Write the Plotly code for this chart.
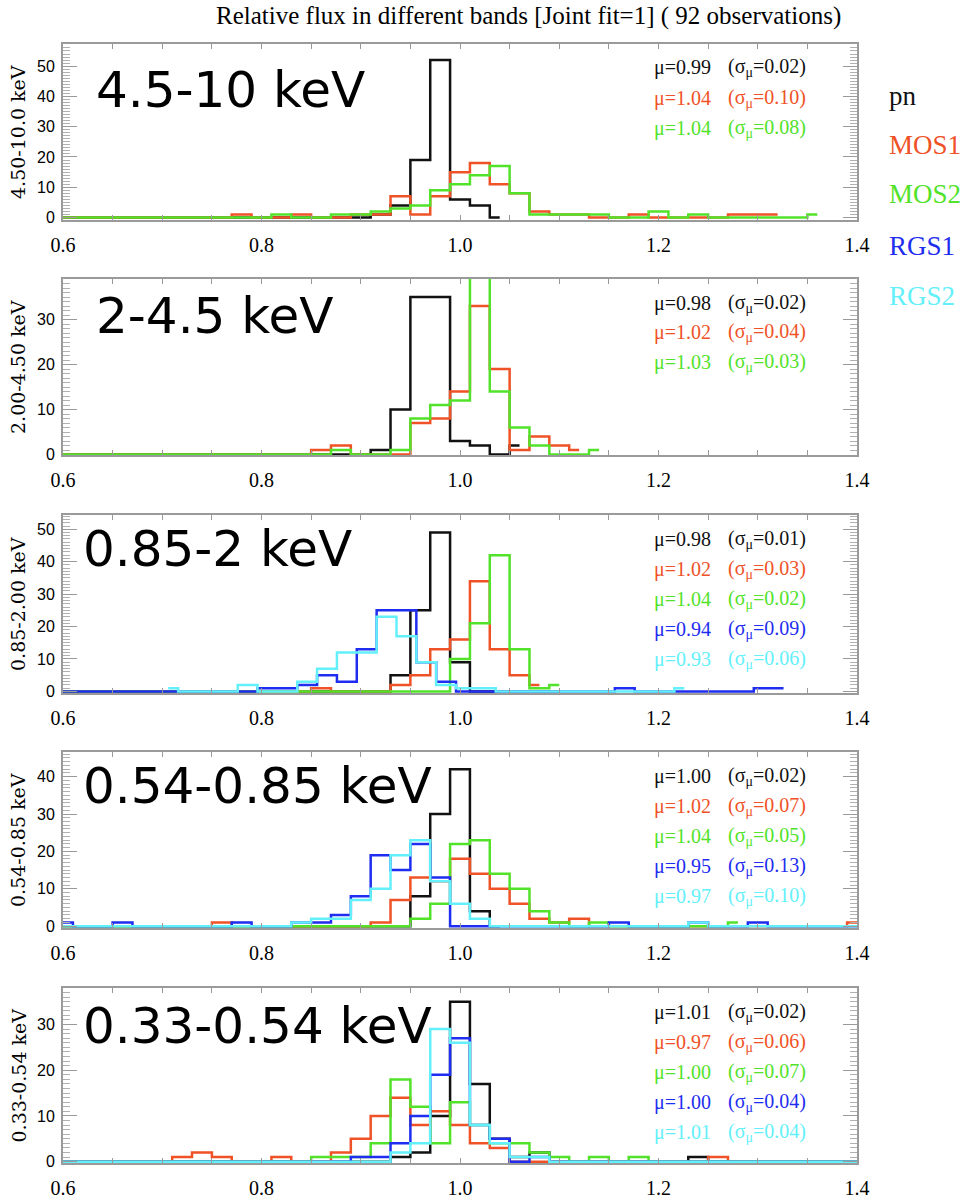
import numpy as np
import plotly.graph_objects as go

# ---------------------------------------------------------------- data
TITLE = "Relative flux in different bands [Joint fit=1] ( 92 observations)"
INSTRUMENTS = ["pn", "MOS1", "MOS2", "RGS1", "RGS2"]
BAND_LABELS = ["4.5-10 keV", "2-4.5 keV", "0.85-2 keV", "0.54-0.85 keV", "0.33-0.54 keV"]
BAND_AXIS_TITLES = ["4.50-10.0 keV", "2.00-4.50 keV", "0.85-2.00 keV",
                    "0.54-0.85 keV", "0.33-0.54 keV"]
X_TICK_VALUES = [0.6, 0.8, 1.0, 1.2, 1.4]
X_TICK_TEXT = ["0.6", "0.8", "1.0", "1.2", "1.4"]
Y_TICKS_4510 = [0, 10, 20, 30, 40, 50]
Y_TICKS_2045 = [0, 10, 20, 30]
Y_TICKS_0852 = [0, 10, 20, 30, 40, 50]
Y_TICKS_054085 = [0, 10, 20, 30, 40]
Y_TICKS_033054 = [0, 10, 20, 30]
BIN_WIDTH = 0.02

# mean and sigma per instrument
MU_4510, SIG_4510 = [0.99, 1.04, 1.04], [0.02, 0.10, 0.08]
MU_2045, SIG_2045 = [0.98, 1.02, 1.03], [0.02, 0.04, 0.03]
MU_0852, SIG_0852 = [0.98, 1.02, 1.04, 0.94, 0.93], [0.01, 0.03, 0.02, 0.09, 0.06]
MU_054085, SIG_054085 = [1.00, 1.02, 1.04, 0.95, 0.97], [0.02, 0.07, 0.05, 0.13, 0.10]
MU_033054, SIG_033054 = [1.01, 0.97, 1.00, 1.00, 1.01], [0.02, 0.06, 0.07, 0.04, 0.04]

# histograms: bin centre -> count (zero at the other bins of the span)
# span = (first bin centre, last bin centre) of the drawn histogram
H_4510_PN = {0.92: 1, 0.94: 4, 0.96: 19, 0.98: 52, 1.00: 6, 1.02: 4}
SPAN_4510_PN = (0.60, 1.04)
H_4510_MOS1 = {0.78: 1, 0.84: 1, 0.90: 1, 0.92: 1, 0.94: 7, 0.96: 1, 0.98: 7, 1.00: 15,
               1.02: 18, 1.04: 11, 1.06: 8, 1.08: 2, 1.10: 1, 1.12: 1, 1.18: 1,
               1.28: 1, 1.30: 1, 1.32: 1}
SPAN_4510_MOS1 = (0.60, 1.32)
H_4510_MOS2 = {0.82: 1, 0.88: 1, 0.90: 1, 0.92: 2, 0.94: 3, 0.96: 4, 0.98: 9, 1.00: 11,
               1.02: 14, 1.04: 17, 1.06: 8, 1.08: 1, 1.10: 1, 1.12: 1, 1.14: 1,
               1.20: 2, 1.24: 1, 1.36: 1}
SPAN_4510_MOS2 = (0.60, 1.36)

H_2045_PN = {0.92: 1, 0.94: 10, 0.96: 35, 0.98: 35, 1.00: 3, 1.02: 2, 1.06: 2}
SPAN_2045_PN = (0.60, 1.06)
H_2045_MOS1 = {0.86: 1, 0.88: 2, 0.96: 7, 0.98: 8, 1.00: 14, 1.02: 33, 1.04: 19,
               1.06: 1, 1.08: 4, 1.10: 2, 1.12: 1}
SPAN_2045_MOS1 = (0.60, 1.12)
H_2045_MOS2 = {0.88: 1, 0.94: 1, 0.96: 8, 0.98: 11, 1.00: 12, 1.02: 42, 1.04: 14,
               1.06: 6, 1.08: 2, 1.14: 1}
SPAN_2045_MOS2 = (0.60, 1.14)

H_0852_PN = {0.94: 5, 0.96: 25, 0.98: 49, 1.00: 9}
SPAN_0852_PN = (0.60, 1.10)
H_0852_MOS1 = {0.86: 1, 0.94: 2, 0.96: 5, 0.98: 13, 1.00: 16, 1.02: 34, 1.04: 13,
               1.06: 5, 1.08: 2}
SPAN_0852_MOS1 = (0.60, 1.08)
H_0852_MOS2 = {1.00: 10, 1.02: 21, 1.04: 42, 1.06: 13, 1.08: 1, 1.10: 2}
SPAN_0852_MOS2 = (0.60, 1.10)
H_0852_RGS1 = {0.806: 1, 0.826: 1, 0.846: 2, 0.866: 5, 0.886: 3, 0.906: 13, 0.926: 25,
               0.946: 25, 0.966: 9, 0.986: 3, 1.166: 1, 1.306: 1, 1.326: 1}
SPAN_0852_RGS1 = (0.586, 1.326)
H_0852_RGS2 = {0.706: 1, 0.786: 2, 0.846: 3, 0.866: 7, 0.886: 12, 0.906: 12, 0.926: 23,
               0.946: 17, 0.966: 9, 0.986: 2, 1.006: 1, 1.026: 1, 1.226: 1}
SPAN_0852_RGS2 = (0.706, 1.226)

H_054085_PN = {0.96: 8, 0.98: 30, 1.00: 42, 1.02: 4}
SPAN_054085_PN = (0.60, 1.04)
H_054085_MOS1 = {0.76: 1, 0.92: 1, 0.94: 7, 0.96: 13, 0.98: 12, 1.00: 18, 1.02: 14,
                 1.04: 10, 1.06: 6, 1.08: 2, 1.10: 1, 1.12: 2, 1.40: 1}
SPAN_054085_MOS1 = (0.60, 1.40)
H_054085_MOS2 = {0.96: 2, 0.98: 6, 1.00: 22, 1.02: 23, 1.04: 14, 1.06: 10, 1.08: 4,
                 1.10: 1, 1.14: 1, 1.28: 1}
SPAN_054085_MOS2 = (0.60, 1.28)
H_054085_RGS1 = {0.60: 1, 0.66: 1, 0.78: 1, 0.84: 1, 0.86: 1, 0.88: 3, 0.90: 8,
                 0.92: 19, 0.94: 15, 0.96: 22, 0.98: 13, 1.16: 1, 1.24: 1, 1.30: 1}
SPAN_054085_RGS1 = (0.60, 1.40)
H_054085_RGS2 = {0.84: 1, 0.86: 2, 0.88: 2, 0.90: 7, 0.92: 10, 0.94: 19, 0.96: 23,
                 0.98: 12, 1.00: 6, 1.02: 2, 1.24: 1}
SPAN_054085_RGS2 = (0.60, 1.40)

H_033054_PN = {0.94: 1, 0.96: 2, 0.98: 10, 1.00: 35, 1.02: 17, 1.04: 5, 1.06: 1,
               1.08: 2, 1.24: 1}
SPAN_033054_PN = (0.60, 1.40)
H_033054_MOS1 = {0.72: 1, 0.74: 2, 0.76: 1, 0.82: 1, 0.88: 2, 0.90: 5, 0.92: 10,
                 0.94: 14, 0.96: 8, 0.98: 11, 1.00: 8, 1.02: 4, 1.04: 3, 1.26: 1}
SPAN_033054_MOS1 = (0.60, 1.40)
H_033054_MOS2 = {0.86: 1, 0.88: 1, 0.90: 1, 0.92: 4, 0.94: 18, 0.96: 12, 0.98: 4,
                 1.00: 13, 1.02: 8, 1.04: 4, 1.06: 4, 1.08: 2, 1.10: 1, 1.14: 1, 1.18: 1}
SPAN_033054_MOS2 = (0.60, 1.40)
H_033054_RGS1 = {0.90: 1, 0.92: 1, 0.94: 4, 0.96: 10, 0.98: 19, 1.00: 27, 1.02: 8,
                 1.04: 5, 1.08: 1}
SPAN_033054_RGS1 = (0.60, 1.40)
H_033054_RGS2 = {0.94: 2, 0.96: 4, 0.98: 29, 1.00: 26, 1.02: 8, 1.04: 4, 1.06: 1,
                 1.08: 1}
SPAN_033054_RGS2 = (0.60, 1.40)

# ---------------------------------------------------------------- style
W, H = 964, 1202
COLORS = ["#111111", "#EF5226", "#52E22A", "#1E2DF0", "#63F0FA"]
FRAME = "#9a9a9a"
PLOT_LEFT, PLOT_RIGHT = 63, 857
PANEL_TOP = [44, 279, 515, 752, 988]
PANEL_BOTTOM = [220, 455, 693, 928, 1163]
Y_RANGES = [[-0.8, 57.3], [-0.1, 39.0], [-0.5, 54.4], [-0.5, 46.6], [-0.3, 38.0]]
LABEL_X = [94, 94, 81, 81, 81]
LABEL_DY = [46, 37, 34, 34, 38]

panels = [
    (BAND_LABELS[0], BAND_AXIS_TITLES[0], Y_TICKS_4510, MU_4510, SIG_4510,
     [(H_4510_PN, SPAN_4510_PN), (H_4510_MOS1, SPAN_4510_MOS1), (H_4510_MOS2, SPAN_4510_MOS2)]),
    (BAND_LABELS[1], BAND_AXIS_TITLES[1], Y_TICKS_2045, MU_2045, SIG_2045,
     [(H_2045_PN, SPAN_2045_PN), (H_2045_MOS1, SPAN_2045_MOS1), (H_2045_MOS2, SPAN_2045_MOS2)]),
    (BAND_LABELS[2], BAND_AXIS_TITLES[2], Y_TICKS_0852, MU_0852, SIG_0852,
     [(H_0852_PN, SPAN_0852_PN), (H_0852_MOS1, SPAN_0852_MOS1), (H_0852_MOS2, SPAN_0852_MOS2),
      (H_0852_RGS1, SPAN_0852_RGS1), (H_0852_RGS2, SPAN_0852_RGS2)]),
    (BAND_LABELS[3], BAND_AXIS_TITLES[3], Y_TICKS_054085, MU_054085, SIG_054085,
     [(H_054085_PN, SPAN_054085_PN), (H_054085_MOS1, SPAN_054085_MOS1),
      (H_054085_MOS2, SPAN_054085_MOS2), (H_054085_RGS1, SPAN_054085_RGS1),
      (H_054085_RGS2, SPAN_054085_RGS2)]),
    (BAND_LABELS[4], BAND_AXIS_TITLES[4], Y_TICKS_033054, MU_033054, SIG_033054,
     [(H_033054_PN, SPAN_033054_PN), (H_033054_MOS1, SPAN_033054_MOS1),
      (H_033054_MOS2, SPAN_033054_MOS2), (H_033054_RGS1, SPAN_033054_RGS1),
      (H_033054_RGS2, SPAN_033054_RGS2)]),
]


def px_x(x):
    return x / W


def px_y(y):
    return 1 - y / H


def histogram_xy(counts, span):
    n = int(round((span[1] - span[0]) / BIN_WIDTH)) + 1
    centres = [round(span[0] + k * BIN_WIDTH, 3) for k in range(n)]
    lookup = {round(k, 3): v for k, v in counts.items()}
    return centres, [lookup.get(c, 0) for c in centres]


fig = go.Figure()
annotations = []
layout = {}

for i, (label, ytitle, yticks, mus, sigs, series) in enumerate(panels):
    n = i + 1
    xa = "x" if n == 1 else f"x{n}"
    ya = "y" if n == 1 else f"y{n}"
    for j, (counts, span) in enumerate(series):
        xs, ys = histogram_xy(counts, span)
        fig.add_trace(go.Scatter(
            x=xs, y=ys, mode="lines", line_shape="hvh",
            line=dict(color=COLORS[j], width=2.5),
            xaxis=xa, yaxis=ya, showlegend=False, hoverinfo="skip"))

    layout["xaxis" if n == 1 else f"xaxis{n}"] = dict(
        domain=[px_x(PLOT_LEFT), px_x(PLOT_RIGHT)], anchor=ya, automargin=False,
        range=[0.6, 1.4], tickvals=X_TICK_VALUES, ticktext=X_TICK_TEXT,
        ticks="inside", ticklen=5, tickwidth=1, tickcolor=FRAME,
        minor=dict(dtick=0.05, ticks="inside", ticklen=5, tickcolor=FRAME),
        showline=True, linecolor=FRAME, linewidth=2, mirror="allticks",
        showgrid=False, zeroline=False, ticklabelstandoff=6,
        tickfont=dict(family="Liberation Serif", size=20, color="black"))
    layout["yaxis" if n == 1 else f"yaxis{n}"] = dict(
        domain=[px_y(PANEL_BOTTOM[i]), px_y(PANEL_TOP[i])], anchor=xa, automargin=False,
        range=Y_RANGES[i], tickvals=yticks,
        ticks="inside", ticklen=14, tickwidth=1, tickcolor=FRAME,
        minor=dict(dtick=1, ticks="inside", ticklen=7, tickcolor="#b0b0b0"),
        showline=True, linecolor=FRAME, linewidth=2, mirror="allticks",
        showgrid=False, zeroline=False, ticklabelstandoff=3,
        tickfont=dict(family="Liberation Sans", size=16, color="black"))

    top = PANEL_TOP[i]
    annotations.append(dict(
        text=label, xref="paper", yref="paper", x=px_x(LABEL_X[i]),
        y=px_y(top + LABEL_DY[i]), xanchor="left", yanchor="middle", showarrow=False,
        font=dict(family="DejaVu Sans", size=50, color="black")))
    annotations.append(dict(
        text=ytitle, xref="paper", yref="paper", x=px_x(18),
        y=px_y((top + PANEL_BOTTOM[i]) / 2), xanchor="center", yanchor="middle",
        textangle=-90, showarrow=False,
        font=dict(family="DejaVu Serif", size=19, color="black")))
    for k, (mu, sg) in enumerate(zip(mus, sigs)):
        yy = px_y(top + 24 + 30 * k)
        annotations.append(dict(
            text=f"\u03bc={mu:.2f}", xref="paper", yref="paper", x=px_x(652), y=yy,
            xanchor="left", yanchor="middle", showarrow=False,
            font=dict(family="Liberation Serif", size=20, color=COLORS[k])))
        annotations.append(dict(
            text=f"(\u03c3<sub>\u03bc</sub>={sg:.2f})", xref="paper", yref="paper",
            x=px_x(726), y=yy, xanchor="left", yanchor="middle", showarrow=False,
            font=dict(family="Liberation Serif", size=20, color=COLORS[k])))

# legend text on the right
LEGEND_Y = [96, 145, 194, 246, 296]
for name, col, ly in zip(INSTRUMENTS, COLORS, LEGEND_Y):
    annotations.append(dict(
        text=name, xref="paper", yref="paper", x=px_x(887), y=px_y(ly),
        xanchor="left", yanchor="middle", showarrow=False,
        font=dict(family="Liberation Serif", size=27, color=col)))

annotations.append(dict(
    text=TITLE, xref="paper", yref="paper", x=px_x(528), y=px_y(16),
    xanchor="center", yanchor="middle", showarrow=False,
    font=dict(family="Liberation Serif", size=25, color="black")))

fig.update_layout(
    width=W, height=H, margin=dict(l=0, r=0, t=0, b=0, autoexpand=False),
    paper_bgcolor="white", plot_bgcolor="white",
    annotations=annotations, **layout)

fig.write_html("out.html")
